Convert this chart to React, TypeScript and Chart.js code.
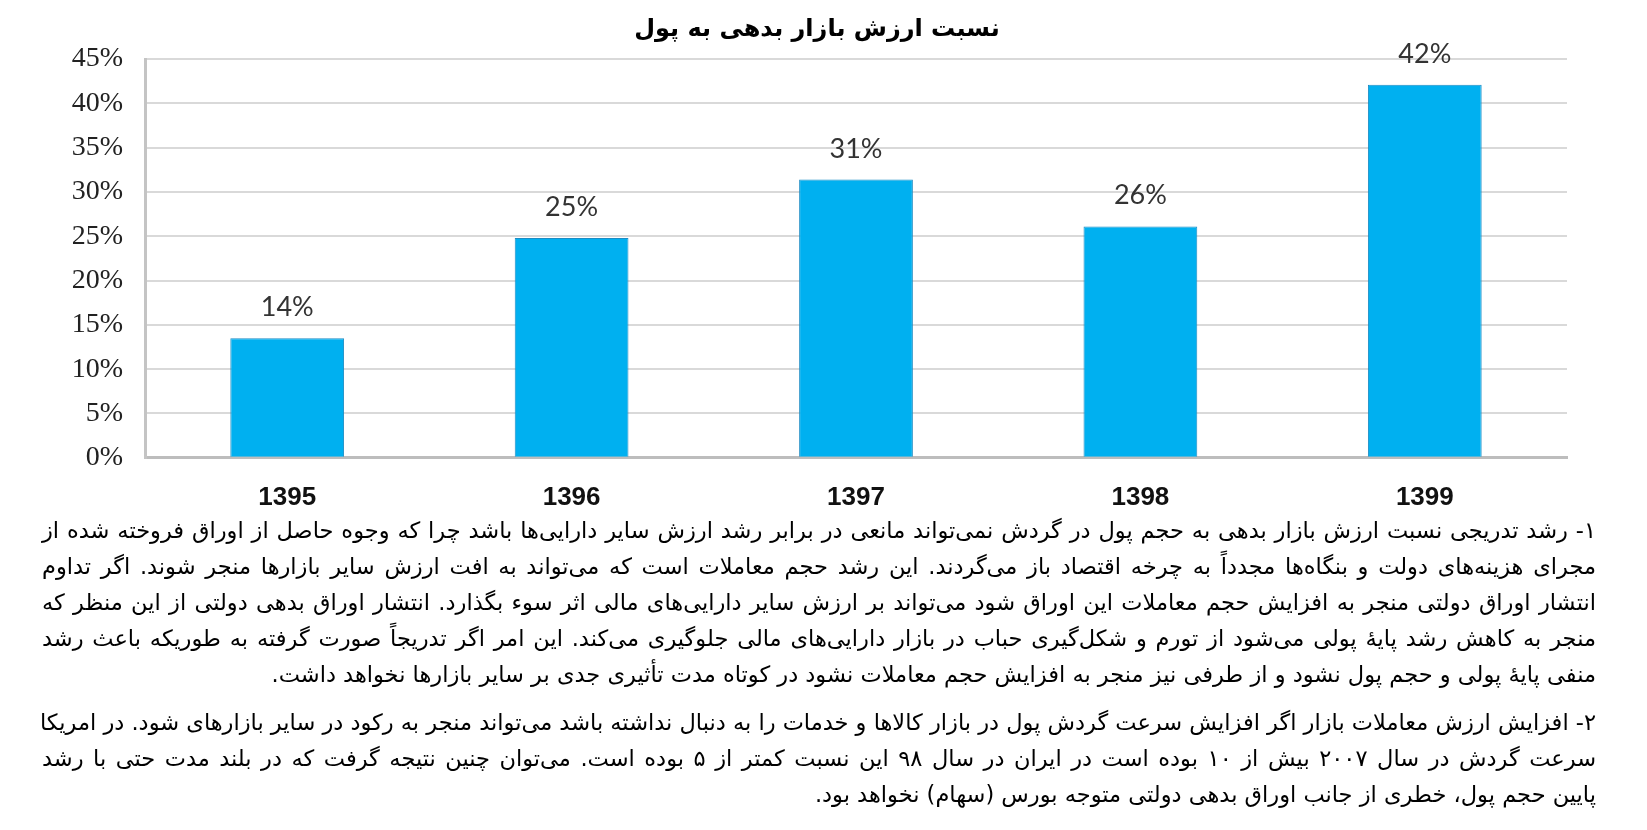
import React, { useEffect, useRef } from "react";
import { Chart, registerables } from "chart.js";

Chart.register(...registerables);

const chartTitle = "نسبت ارزش بازار بدهی به پول";
const categories = ["1395", "1396", "1397", "1398", "1399"];
const ratioValues = [13.5, 24.8, 31.4, 26.1, 42.1];
const yMin = 0;
const yMax = 45;
const yStep = 5;

const paragraphOne = [
  "۱- رشد تدریجی نسبت ارزش بازار بدهی به حجم پول در گردش نمی‌تواند مانعی در برابر رشد ارزش سایر دارایی‌ها باشد چرا که وجوه حاصل از اوراق فروخته شده از",
  "مجرای هزینه‌های دولت و بنگاه‌ها مجدداً به چرخه اقتصاد باز می‌گردند. این رشد حجم معاملات است که می‌تواند به افت ارزش سایر بازارها منجر شوند. اگر تداوم",
  "انتشار اوراق دولتی منجر به افزایش حجم معاملات این اوراق شود می‌تواند بر ارزش سایر دارایی‌های مالی اثر سوء بگذارد. انتشار اوراق بدهی دولتی از این منظر که",
  "منجر به کاهش رشد پایهٔ پولی می‌شود از تورم و شکل‌گیری حباب در بازار دارایی‌های مالی جلوگیری می‌کند. این امر اگر تدریجاً صورت گرفته به طوریکه باعث رشد",
  "منفی پایهٔ پولی و حجم پول نشود و از طرفی نیز منجر به افزایش حجم معاملات نشود در کوتاه مدت تأثیری جدی بر سایر بازارها نخواهد داشت.",
];

const paragraphTwo = [
  "۲- افزایش ارزش معاملات بازار اگر افزایش سرعت گردش پول در بازار کالاها و خدمات را به دنبال نداشته باشد می‌تواند منجر به رکود در سایر بازارهای شود. در امریکا",
  "سرعت گردش در سال ۲۰۰۷ بیش از ۱۰ بوده است در ایران در سال ۹۸ این نسبت کمتر از ۵ بوده است. می‌توان چنین نتیجه گرفت که در بلند مدت حتی با رشد",
  "پایین حجم پول، خطری از جانب اوراق بدهی دولتی متوجه بورس (سهام) نخواهد بود.",
];

const titlePlugin = {
  id: "centeredTitle",
  afterDraw(chart: any) {
    const ctx = chart.ctx;
    ctx.save();
    ctx.font = "bold 24px 'DejaVu Sans', sans-serif";
    ctx.fillStyle = "#000";
    ctx.textAlign = "center";
    ctx.textBaseline = "middle";
    ctx.fillText(chartTitle, 817, 30);
    ctx.restore();
  },
};

const valueLabelPlugin = {
  id: "valueLabels",
  afterDatasetsDraw(chart: any) {
    const ctx = chart.ctx;
    const meta = chart.getDatasetMeta(0);
    ctx.save();
    ctx.font = "27px Lato, 'Open Sans', sans-serif";
    ctx.fillStyle = "#333";
    ctx.textAlign = "center";
    ctx.textBaseline = "alphabetic";
    meta.data.forEach((bar: any, i: number) => {
      ctx.fillText(Math.round(ratioValues[i]) + "%", bar.x, bar.y - 22);
    });
    ctx.restore();
  },
};

function TextLine({ text, last }: { text: string; last: boolean }) {
  return (
    <div
      style={{
        textAlign: last ? "right" : "justify",
        textAlignLast: last ? "right" : "justify",
        whiteSpace: "nowrap",
        height: 36,
        overflow: "visible",
      } as any}
    >
      {text}
    </div>
  );
}

export default function App() {
  const canvasRef = useRef<HTMLCanvasElement | null>(null);

  useEffect(() => {
    if (!canvasRef.current) return;
    const chart = new Chart(canvasRef.current, {
      type: "bar",
      data: {
        labels: categories,
        datasets: [
          {
            data: ratioValues,
            backgroundColor: "#00B0F0",
            borderColor: "#1B8CC4",
            borderWidth: 1,
            categoryPercentage: 0.8,
            barPercentage: 0.5,
          },
        ],
      },
      options: {
        animation: false,
        responsive: false,
        devicePixelRatio: 1,
        layout: { padding: { left: 0, right: 80, top: 59, bottom: 4 } },
        plugins: {
          legend: { display: false },
          tooltip: { enabled: false },
          title: { display: false },
        },
        scales: {
          x: {
            grid: { display: false, drawTicks: false },
            border: { color: "#bdbdbd", width: 3 },
            ticks: {
              color: "#111",
              padding: 24,
              font: { family: "'Liberation Sans', Arial, sans-serif", size: 26, weight: "bold", lineHeight: 1.2 },
            },
          },
          y: {
            min: yMin,
            max: yMax,
            afterFit: (scale: any) => {
              scale.width = 145;
            },
            grid: { color: "#d9d9d9", lineWidth: 2, drawTicks: false },
            border: { color: "#c4c4c4", width: 3 },
            ticks: {
              stepSize: yStep,
              color: "#222",
              padding: 22,
              font: { family: "'Liberation Serif', 'Times New Roman', serif", size: 28 },
              callback: (v: any) => v + "%",
            },
          },
        },
      },
      plugins: [valueLabelPlugin, titlePlugin],
    } as any);
    return () => chart.destroy();
  }, []);

  return (
    <div
      style={{
        position: "absolute",
        left: 0,
        top: 0,
        width: 1647,
        height: 830,
        background: "#fff",
        overflow: "hidden",
      }}
    >
      <canvas
        ref={canvasRef}
        width={1647}
        height={541}
        style={{ position: "absolute", left: 0, top: 0, width: 1647, height: 541 }}
      />
      <div
        style={{
          position: "absolute",
          left: 42,
          width: 1554,
          top: 512,
          direction: "rtl",
          fontFamily: "'DejaVu Sans', sans-serif",
          fontSize: 22.5,
          lineHeight: "36px",
          color: "#000",
        }}
      >
        <div>
          {paragraphOne.map((t, i) => (
            <TextLine key={"a" + i} text={t} last={i === paragraphOne.length - 1} />
          ))}
        </div>
        <div style={{ marginTop: 12 }}>
          {paragraphTwo.map((t, i) => (
            <TextLine key={"b" + i} text={t} last={i === paragraphTwo.length - 1} />
          ))}
        </div>
      </div>
    </div>
  );
}
